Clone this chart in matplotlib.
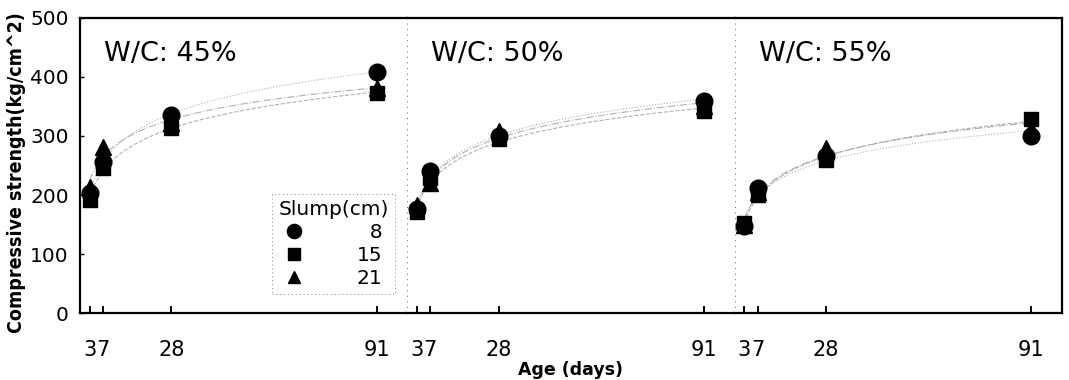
import numpy as np
import matplotlib
matplotlib.use("Agg")
from matplotlib import pyplot as plt
from matplotlib.lines import Line2D

plt.rcParams['font.family'] = ['DejaVu Sans']

days = [3, 7, 28, 91]
panels = ["W/C: 45%", "W/C: 50%", "W/C: 55%"]
slumps = ["8", "15", "21"]

# compressive strength (kg/cm^2) per slump, one list per W/C ratio
wc45 = {"8": [203, 256, 336, 409], "15": [191, 246, 313, 373], "21": [214, 282, 322, 381]}
wc50 = {"8": [176, 240, 300, 360], "15": [172, 228, 295, 342], "21": [183, 221, 308, 350]}
wc55 = {"8": [147, 212, 266, 300], "15": [152, 200, 259, 328], "21": [150, 205, 280, 312]}
strength = [wc45, wc50, wc55]

markers = {"8": ("o", 12), "15": ("s", 10), "21": ("^", 11)}
fit_styles = {"8": ":", "15": "--", "21": "-."}

fig, axes = plt.subplots(1, 3, figsize=(10.69, 3.8), dpi=100, sharey=True)
fig.subplots_adjust(left=0.0748, right=0.9935, bottom=0.176, top=0.953, wspace=0)

t = np.linspace(3, 91, 200)
for k, ax in enumerate(axes):
    data = strength[k]
    for s in slumps:
        y = np.array(data[s])
        # logarithmic trend of strength with age
        b, a = np.polyfit(np.log(days), y, 1)
        ax.plot(t, a + b * np.log(t), color="#b0b0b0", lw=0.8, ls=fit_styles[s], zorder=1)
        m, ms = markers[s]
        ax.plot(days, y, ls="none", marker=m, ms=ms, color="black", zorder=3)
    ax.set_xlim(0, 100.4)
    ax.set_ylim(0, 500)
    ax.set_xticks(days)
    ax.set_xticklabels([str(d) for d in days])
    ax.tick_params(axis="x", direction="in", length=5, width=1.4, pad=19, labelsize=15)
    ax.tick_params(axis="y", direction="in", length=3, width=1.0, pad=8, labelsize=14.5)
    ax.text(0.073, 0.92, panels[k], transform=ax.transAxes, fontsize=19.5,
            ha="left", va="top")
    for side in ["top", "bottom", "left", "right"]:
        ax.spines[side].set_linewidth(1.6)
    if k > 0:
        ax.spines["left"].set_visible(False)
        ax.tick_params(axis="y", left=False)
        ax.axvline(0, color="#777777", lw=0.8, ls=(0, (1, 4)), zorder=0)
    if k < 2:
        ax.spines["right"].set_visible(False)

axes[0].set_yticks(range(0, 501, 100))

fs = "\u2007"
handles = [Line2D([], [], ls="none", marker=markers[s][0], ms=markers[s][1] * 0.85,
                  color="black") for s in slumps]
labels = [s.rjust(2, fs) for s in slumps]
leg = axes[0].legend(handles, labels, title="Slump(cm)", loc="upper left",
                     bbox_to_anchor=(0.587, 0.405), fontsize=14.5, title_fontsize=14.5,
                     frameon=True, handletextpad=2.6, labelspacing=0.2,
                     borderpad=0.3, handlelength=1.0, borderaxespad=0)
frame = leg.get_frame()
frame.set_edgecolor("#666666")
frame.set_linewidth(0.7)
frame.set_linestyle((0, (1, 3)))
frame.set_boxstyle("square", pad=0)

fig.text(0.015, 0.545, "Compressive strength(kg/cm^2)", rotation=90, fontsize=14,
         fontweight="bold", fontstretch="condensed", ha="center", va="center",
         family=["DejaVu Sans"])
fig.text(0.534, 0.027, "Age (days)", fontsize=12.5, fontweight="bold",
         ha="center", va="center")

fig.savefig("out.png", dpi=100)
